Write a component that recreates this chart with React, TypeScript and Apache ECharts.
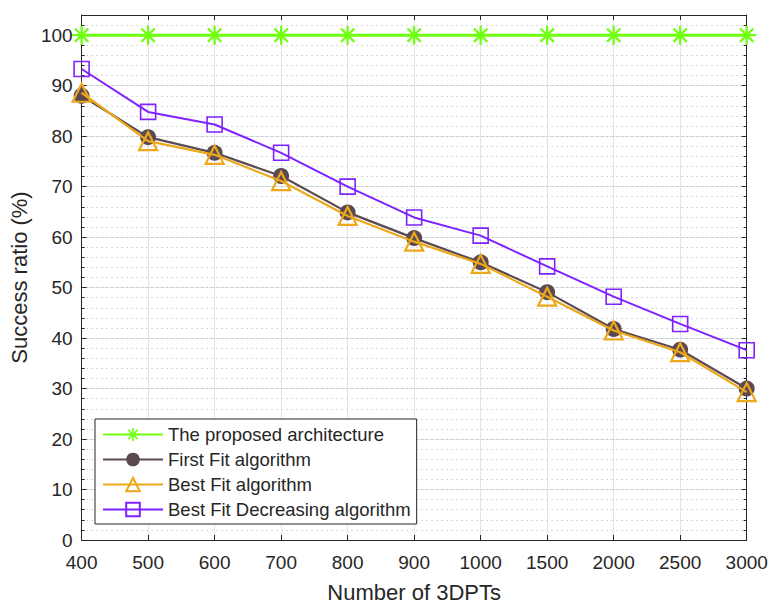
import React, { useEffect, useRef } from "react";
import * as echarts from "echarts";

const categories = ["400", "500", "600", "700", "800", "900", "1000", "1500", "2000", "2500", "3000"];
const proposed = [100, 100, 100, 100, 100, 100, 100, 100, 100, 100, 100];
const firstFit = [88, 79.8, 76.7, 72.1, 64.9, 59.8, 55, 49.1, 41.8, 37.7, 30];
const bestFit = [88.6, 79, 76.3, 71.1, 64.2, 59.1, 54.7, 48.2, 41.5, 37.2, 29.3];
const bestFitDecreasing = [93.3, 84.8, 82.3, 76.7, 70, 63.9, 60.3, 54.2, 48.2, 42.8, 37.6];
const seriesNames = [
  "The proposed architecture",
  "First Fit algorithm",
  "Best Fit algorithm",
  "Best Fit Decreasing algorithm",
];

const asterisk =
  "path://M-1.2,-10 L1.2,-10 L1.2,10 L-1.2,10 Z M-10,-1.2 L10,-1.2 L10,1.2 L-10,1.2 Z " +
  "M-6.2,-7.9 L7.9,6.2 L6.2,7.9 L-7.9,-6.2 Z M6.2,-7.9 L7.9,-6.2 L-6.2,7.9 L-7.9,6.2 Z";

const FONT = "Liberation Sans";
const TXT = "#262626";

export default function App() {
  const ref = useRef<HTMLDivElement>(null);
  useEffect(() => {
    const chart = echarts.init(ref.current!, null, { renderer: "svg" });
    const green = "#70ff10";
    const brown = "#5c4a52";
    const orange = "#eda81a";
    const purple = "#7f22ff";
    const majorY = (pos: "left" | "right", labels: boolean) => ({
      type: "value",
      position: pos,
      min: 0,
      max: 104,
      interval: 10,
      axisLine: { show: true, onZero: false, lineStyle: { color: TXT, width: 1 } },
      axisTick: { show: true, inside: true, length: 5, lineStyle: { color: TXT } },
      axisLabel: {
        show: labels,
        margin: 9,
        fontFamily: FONT,
        fontSize: 19,
        color: TXT,
        formatter: (v: number) => (v % 10 === 0 && v <= 100 ? String(v) : ""),
      },
      splitLine: { show: labels, lineStyle: { color: "#dfe4e4", width: 1, type: "solid" } },
      name: labels ? "Success ratio (%)" : "",
      nameLocation: "middle",
      nameGap: 46,
      nameTextStyle: { fontFamily: FONT, fontSize: 22, color: TXT },
    });
    const minorY = (pos: "left" | "right", grid: boolean) => ({
      type: "value",
      position: pos,
      min: 0,
      max: 104,
      interval: 2,
      axisLine: { show: false },
      axisTick: { show: true, inside: true, length: 3, lineStyle: { color: TXT } },
      axisLabel: { show: false },
      splitLine: { show: grid, lineStyle: { color: "#b0b0b0", width: 1, type: [1, 4] } },
    });
    chart.setOption({
      animation: false,
      backgroundColor: "#fff",
      grid: { left: 79.5, right: 33.3, top: 15, bottom: 70, containLabel: false },
      legend: {
        orient: "vertical",
        left: 95,
        top: 419,
        padding: [6, 6, 5, 7],
        itemGap: 6,
        itemWidth: 60,
        itemHeight: 17,
        backgroundColor: "#fff",
        borderColor: TXT,
        borderWidth: 1,
        borderRadius: 0,
        textStyle: { fontFamily: FONT, fontSize: 18.5, lineHeight: 17, color: TXT },
        data: seriesNames,
      },
      xAxis: [
        {
          type: "category",
          data: categories,
          boundaryGap: false,
          position: "bottom",
          axisLine: { show: true, onZero: false, lineStyle: { color: TXT, width: 1 } },
          axisTick: { show: true, inside: true, length: 5, alignWithLabel: true, lineStyle: { color: TXT } },
          axisLabel: { margin: 13, fontFamily: FONT, fontSize: 19, color: TXT, interval: 0 },
          splitLine: { show: true, lineStyle: { color: "#dfe4e4", width: 1 } },
          name: "Number of 3DPTs",
          nameLocation: "middle",
          nameGap: 41,
          nameTextStyle: { fontFamily: FONT, fontSize: 22, color: TXT },
        },
        {
          type: "category",
          data: categories,
          boundaryGap: false,
          position: "top",
          axisLine: { show: true, onZero: false, lineStyle: { color: TXT, width: 1 } },
          axisTick: { show: true, inside: true, length: 5, lineStyle: { color: TXT } },
          axisLabel: { show: false },
          splitLine: { show: false },
        },
      ],
      yAxis: [
        majorY("left", true),
        minorY("left", true),
        majorY("right", false),
        minorY("right", false),
      ],
      series: [
        {
          name: seriesNames[0],
          type: "line",
          data: proposed,
          symbol: asterisk,
          symbolSize: 19,
          lineStyle: { color: green, width: 3 },
          itemStyle: { color: green },
          z: 3,
        },
        {
          name: seriesNames[1],
          type: "line",
          data: firstFit,
          symbol: "circle",
          symbolSize: 16,
          lineStyle: { color: brown, width: 2.2 },
          itemStyle: { color: brown },
          z: 4,
        },
        {
          name: seriesNames[2],
          type: "line",
          data: bestFit,
          symbol: "triangle",
          symbolSize: 18,
          lineStyle: { color: orange, width: 2.2 },
          itemStyle: { color: "rgba(0,0,0,0)", borderColor: orange, borderWidth: 2.2 },
          z: 5,
        },
        {
          name: seriesNames[3],
          type: "line",
          data: bestFitDecreasing,
          symbol: "rect",
          symbolSize: 15,
          lineStyle: { color: purple, width: 2 },
          itemStyle: { color: "rgba(0,0,0,0)", borderColor: purple, borderWidth: 1.6 },
          z: 6,
        },
      ],
    });
    return () => chart.dispose();
  }, []);
  return <div ref={ref} style={{ width: 780, height: 610, margin: -8 }} />;
}
